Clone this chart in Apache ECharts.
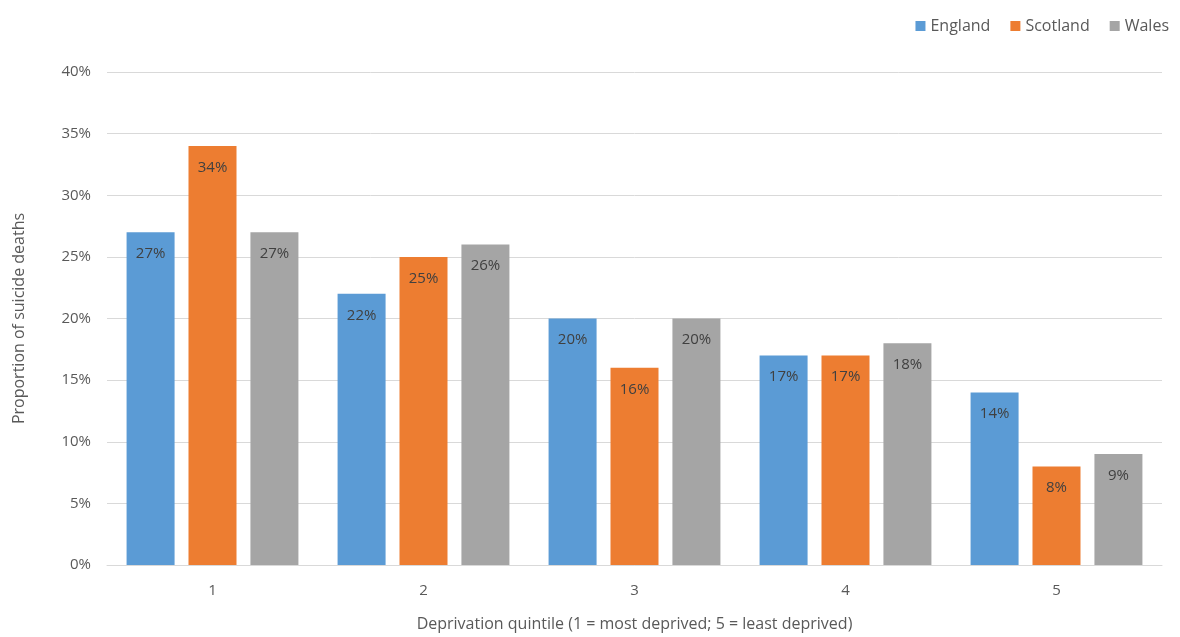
<!DOCTYPE html>
<html>
<head>
<meta charset="utf-8">
<script src="https://cdn.jsdelivr.net/npm/echarts@6/dist/echarts.min.js"></script>
<style>
  html, body { margin: 0; padding: 0; background: #fff; }
  #chart { width: 1180px; height: 637px; }
</style>
</head>
<body>
<div id="chart"></div>
<script>
// Deprivation quintiles and share of suicide deaths (%) by nation
const quintiles = ['1', '2', '3', '4', '5'];
const england = [27, 22, 20, 17, 14];
const scotland = [34, 25, 16, 17, 8];
const wales = [27, 26, 20, 18, 9];

const FONT = '"Open Sans", "Liberation Sans", sans-serif';
const TEXT = '#595959';

const labelStyle = {
  show: true,
  position: 'insideTop',
  distance: 14,
  color: '#404040',
  fontFamily: FONT,
  fontSize: 15,
  formatter: p => p.value + '%'
};

function bar(name, data, color) {
  return {
    name, type: 'bar', data,
    barWidth: 48,
    barGap: '29%',
    itemStyle: { color },
    label: labelStyle
  };
}

const chart = echarts.init(document.getElementById('chart'), null, { renderer: 'canvas' });
chart.setOption({
  animation: false,
  textStyle: { fontFamily: FONT },
  legend: {
    top: 13,
    right: 6,
    itemWidth: 10,
    itemHeight: 10,
    itemGap: 20,
    icon: 'rect',
    textStyle: { color: TEXT, fontSize: 16, fontFamily: FONT },
    data: ['England', 'Scotland', 'Wales']
  },
  grid: { left: 107, right: 18, top: 72, bottom: 72, containLabel: false, outerBoundsMode: 'none' },
  xAxis: {
    type: 'category',
    data: quintiles,
    name: 'Deprivation quintile (1 = most deprived; 5 = least deprived)',
    nameLocation: 'middle',
    nameGap: 51,
    nameTextStyle: { color: TEXT, fontSize: 16, fontFamily: FONT },
    axisLine: { lineStyle: { color: '#D9D9D9' } },
    axisTick: { show: false },
    axisLabel: { color: TEXT, fontSize: 15, fontFamily: FONT, margin: 18 }
  },
  yAxis: {
    type: 'value',
    min: 0,
    max: 40,
    interval: 5,
    name: 'Proportion of suicide deaths',
    nameLocation: 'middle',
    nameGap: 80,
    nameTextStyle: { color: TEXT, fontSize: 16, fontFamily: FONT },
    axisLine: { show: false },
    axisTick: { show: false },
    axisLabel: { color: TEXT, fontSize: 15, fontFamily: FONT, margin: 16, formatter: '{value}%' },
    splitLine: { lineStyle: { color: '#D9D9D9' } }
  },
  series: [
    bar('England', england, '#5B9BD5'),
    bar('Scotland', scotland, '#ED7D31'),
    bar('Wales', wales, '#A5A5A5')
  ]
});
</script>
</body>
</html>
